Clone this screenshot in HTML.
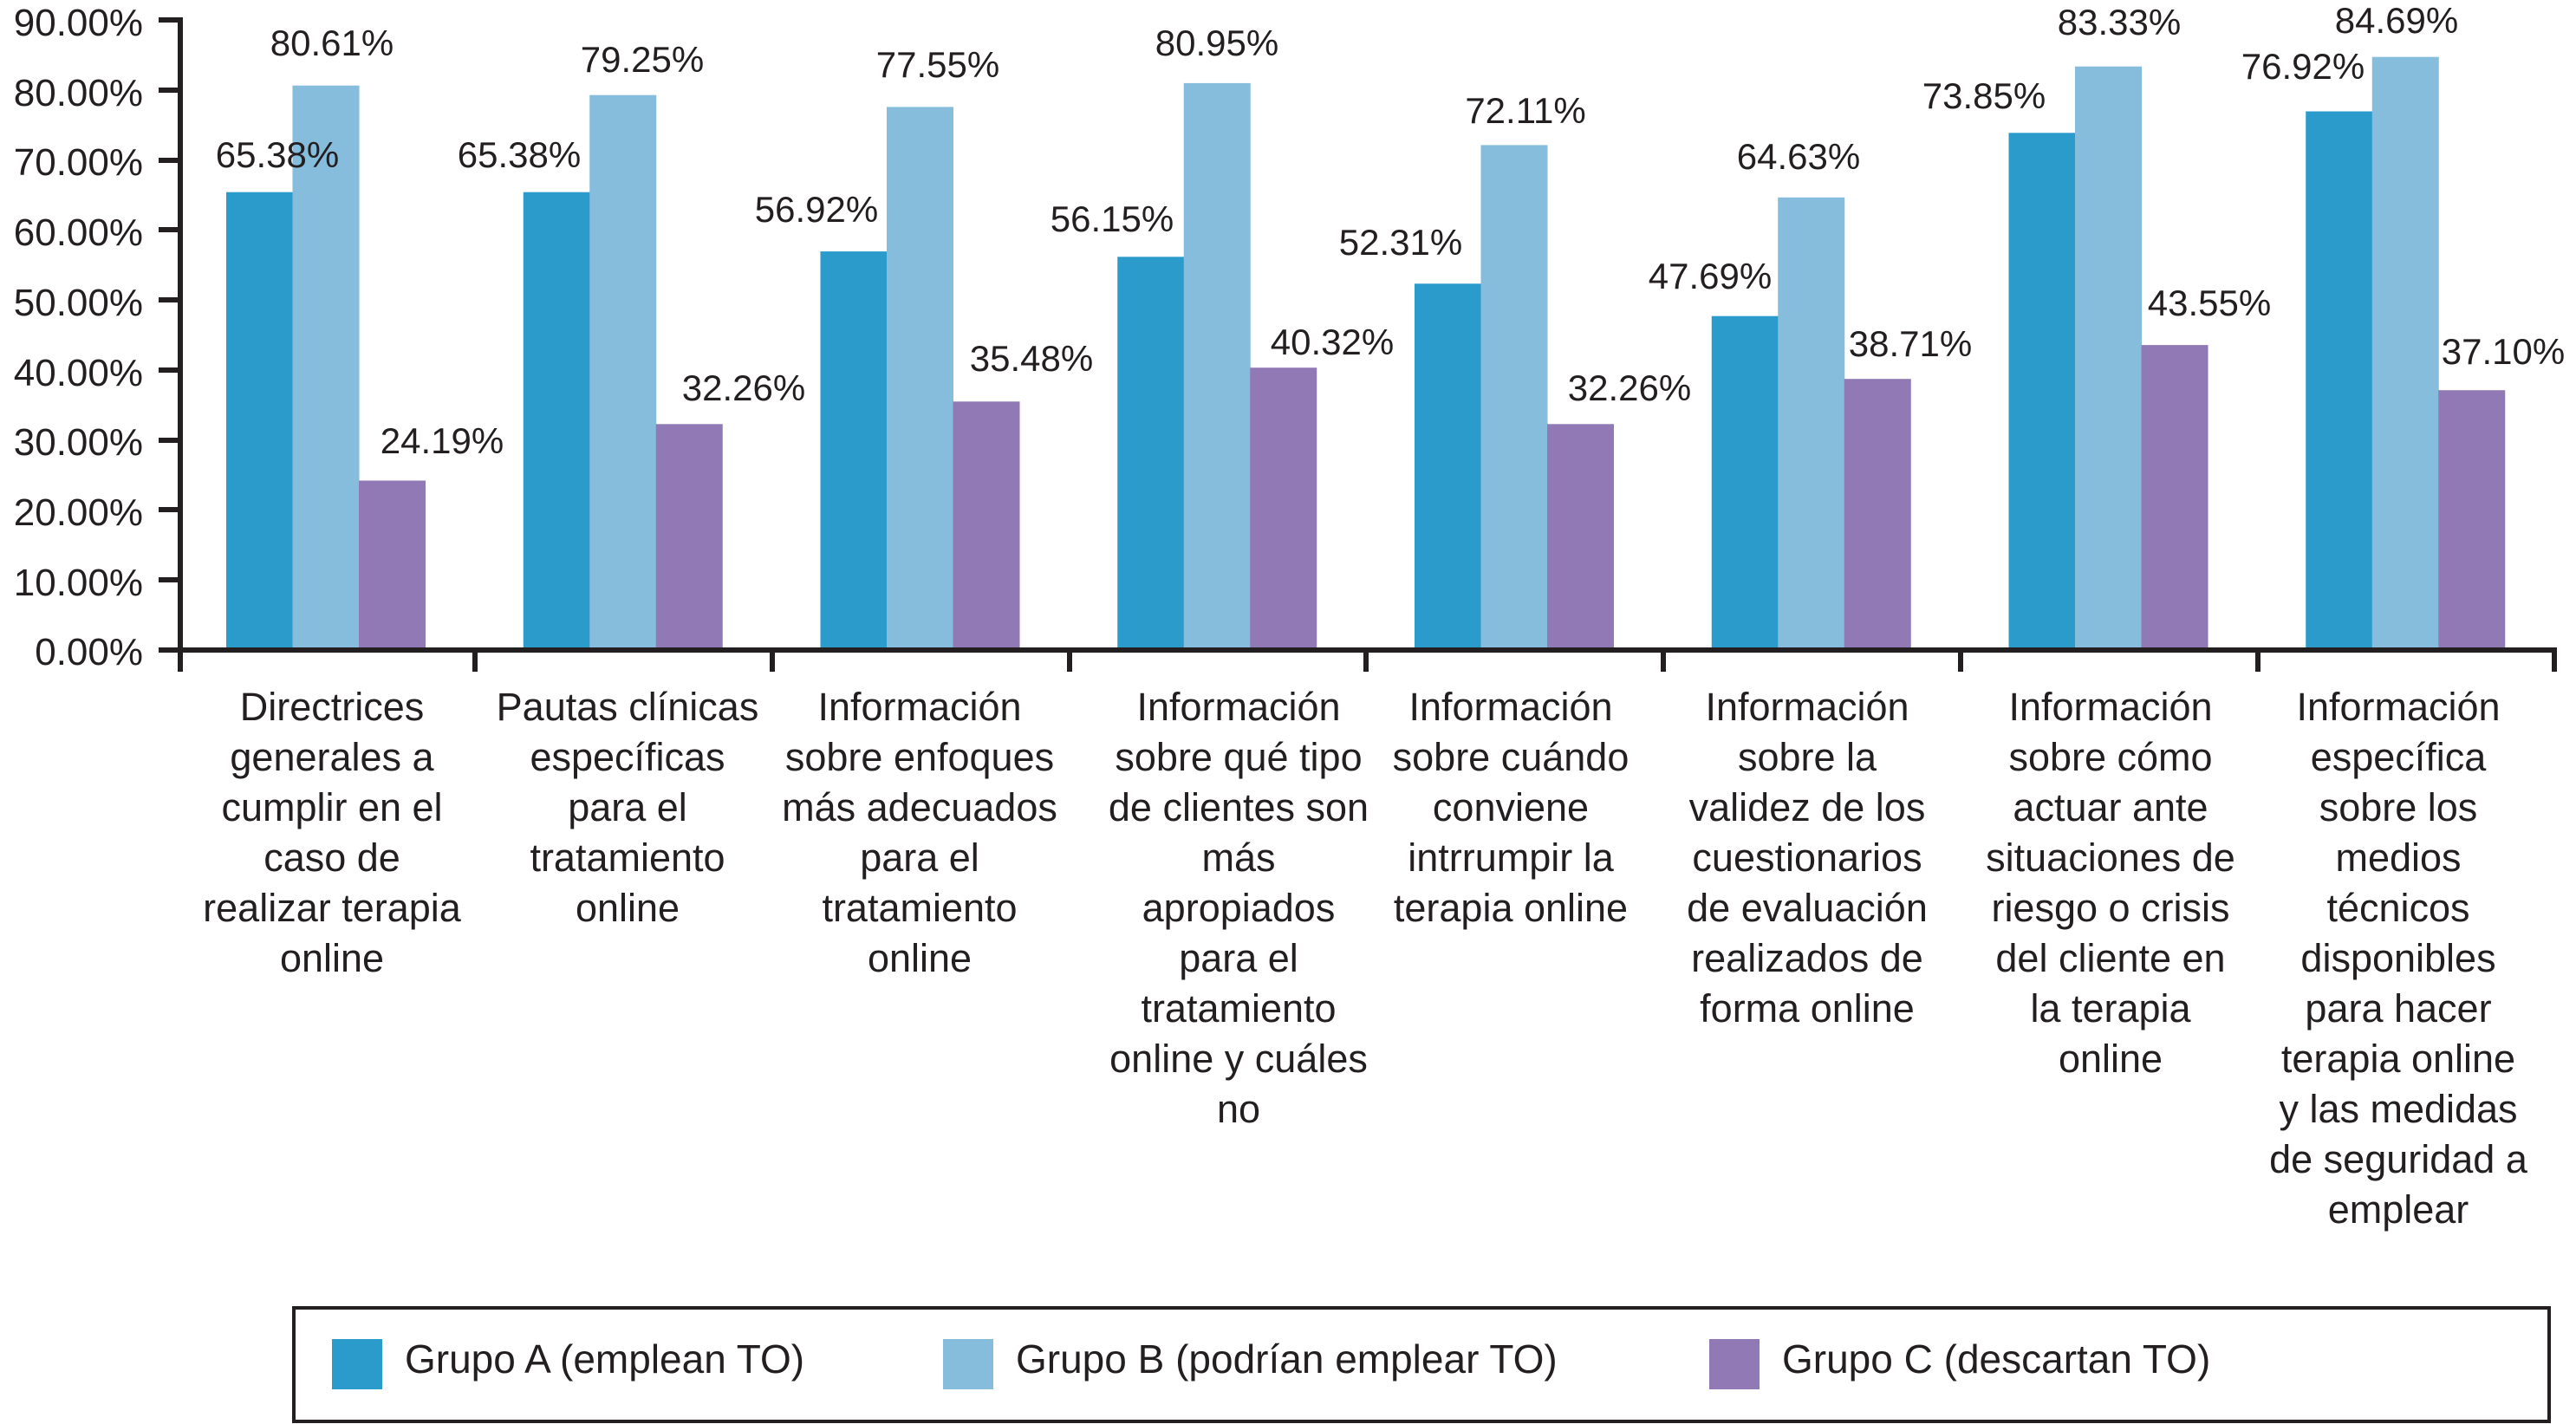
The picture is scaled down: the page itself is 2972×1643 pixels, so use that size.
<!DOCTYPE html>
<html><head><meta charset="utf-8"><style>
html,body{margin:0;padding:0;background:#fff;}
svg{display:block;font-family:"Liberation Sans",Arial,sans-serif;}
</style></head><body>
<svg width="2972" height="1643" viewBox="0 0 2972 1643" xmlns="http://www.w3.org/2000/svg">
<g fill="#231f20" font-size="44" text-anchor="end">
<text x="165" y="41">90.00%</text>
<text x="165" y="122">80.00%</text>
<text x="165" y="202">70.00%</text>
<text x="165" y="283">60.00%</text>
<text x="165" y="364">50.00%</text>
<text x="165" y="445">40.00%</text>
<text x="165" y="525">30.00%</text>
<text x="165" y="606">20.00%</text>
<text x="165" y="687">10.00%</text>
<text x="165" y="767">0.00%</text>
</g>
<g>
<rect x="261" y="221.7" width="77" height="528.3" fill="#2b9bcb"/>
<rect x="337.5" y="98.7" width="77" height="651.3" fill="#86bcdc"/>
<rect x="414" y="554.5" width="77" height="195.5" fill="#9079b4"/>
<rect x="603.75" y="221.7" width="77" height="528.3" fill="#2b9bcb"/>
<rect x="680.25" y="109.7" width="77" height="640.3" fill="#86bcdc"/>
<rect x="756.75" y="489.3" width="77" height="260.7" fill="#9079b4"/>
<rect x="946.5" y="290.1" width="77" height="459.9" fill="#2b9bcb"/>
<rect x="1023" y="123.4" width="77" height="626.6" fill="#86bcdc"/>
<rect x="1099.5" y="463.3" width="77" height="286.7" fill="#9079b4"/>
<rect x="1289.25" y="296.3" width="77" height="453.7" fill="#2b9bcb"/>
<rect x="1365.75" y="95.9" width="77" height="654.1" fill="#86bcdc"/>
<rect x="1442.25" y="424.2" width="77" height="325.8" fill="#9079b4"/>
<rect x="1632" y="327.3" width="77" height="422.7" fill="#2b9bcb"/>
<rect x="1708.5" y="167.4" width="77" height="582.6" fill="#86bcdc"/>
<rect x="1785" y="489.3" width="77" height="260.7" fill="#9079b4"/>
<rect x="1974.75" y="364.7" width="77" height="385.3" fill="#2b9bcb"/>
<rect x="2051.25" y="227.8" width="77" height="522.2" fill="#86bcdc"/>
<rect x="2127.75" y="437.2" width="77" height="312.8" fill="#9079b4"/>
<rect x="2317.5" y="153.3" width="77" height="596.7" fill="#2b9bcb"/>
<rect x="2394" y="76.7" width="77" height="673.3" fill="#86bcdc"/>
<rect x="2470.5" y="398.1" width="77" height="351.9" fill="#9079b4"/>
<rect x="2660.25" y="128.5" width="77" height="621.5" fill="#2b9bcb"/>
<rect x="2736.75" y="65.7" width="77" height="684.3" fill="#86bcdc"/>
<rect x="2813.25" y="450.2" width="77" height="299.8" fill="#9079b4"/>
</g>
<g stroke="#231f20" stroke-width="6">
<line x1="208" y1="20" x2="208" y2="775"/>
<line x1="183" y1="750" x2="2950" y2="750"/>
<line x1="183" y1="23" x2="208" y2="23"/>
<line x1="183" y1="104" x2="208" y2="104"/>
<line x1="183" y1="185" x2="208" y2="185"/>
<line x1="183" y1="265" x2="208" y2="265"/>
<line x1="183" y1="346" x2="208" y2="346"/>
<line x1="183" y1="427" x2="208" y2="427"/>
<line x1="183" y1="508" x2="208" y2="508"/>
<line x1="183" y1="588" x2="208" y2="588"/>
<line x1="183" y1="669" x2="208" y2="669"/>
<line x1="548" y1="750" x2="548" y2="775"/>
<line x1="891" y1="750" x2="891" y2="775"/>
<line x1="1234" y1="750" x2="1234" y2="775"/>
<line x1="1576" y1="750" x2="1576" y2="775"/>
<line x1="1919" y1="750" x2="1919" y2="775"/>
<line x1="2262" y1="750" x2="2262" y2="775"/>
<line x1="2605" y1="750" x2="2605" y2="775"/>
<line x1="2947" y1="750" x2="2947" y2="775"/>
</g>
<g fill="#231f20" font-size="42" text-anchor="middle">
<text x="320" y="193">65.38%</text><text x="383" y="64">80.61%</text><text x="510" y="523">24.19%</text>
<text x="599" y="193">65.38%</text><text x="741" y="83">79.25%</text><text x="858" y="462">32.26%</text>
<text x="942" y="256">56.92%</text><text x="1082" y="89">77.55%</text><text x="1190" y="428">35.48%</text>
<text x="1283" y="267">56.15%</text><text x="1404" y="64">80.95%</text><text x="1537" y="409">40.32%</text>
<text x="1616" y="294">52.31%</text><text x="1760" y="142">72.11%</text><text x="1880" y="462">32.26%</text>
<text x="1973" y="333">47.69%</text><text x="2075" y="195">64.63%</text><text x="2204" y="411">38.71%</text>
<text x="2289" y="125">73.85%</text><text x="2445" y="40">83.33%</text><text x="2549" y="364">43.55%</text>
<text x="2657" y="91">76.92%</text><text x="2765" y="38">84.69%</text><text x="2888" y="420">37.10%</text>
</g>
<g fill="#231f20" font-size="45" text-anchor="middle">
<text x="383" y="831">Directrices<tspan x="383" dy="58">generales a</tspan><tspan x="383" dy="58">cumplir en el</tspan><tspan x="383" dy="58">caso de</tspan><tspan x="383" dy="58">realizar terapia</tspan><tspan x="383" dy="58">online</tspan></text>
<text x="724" y="831">Pautas clínicas<tspan x="724" dy="58">específicas</tspan><tspan x="724" dy="58">para el</tspan><tspan x="724" dy="58">tratamiento</tspan><tspan x="724" dy="58">online</tspan></text>
<text x="1061" y="831">Información<tspan x="1061" dy="58">sobre enfoques</tspan><tspan x="1061" dy="58">más adecuados</tspan><tspan x="1061" dy="58">para el</tspan><tspan x="1061" dy="58">tratamiento</tspan><tspan x="1061" dy="58">online</tspan></text>
<text x="1429" y="831">Información<tspan x="1429" dy="58">sobre qué tipo</tspan><tspan x="1429" dy="58">de clientes son</tspan><tspan x="1429" dy="58">más</tspan><tspan x="1429" dy="58">apropiados</tspan><tspan x="1429" dy="58">para el</tspan><tspan x="1429" dy="58">tratamiento</tspan><tspan x="1429" dy="58">online y cuáles</tspan><tspan x="1429" dy="58">no</tspan></text>
<text x="1743" y="831">Información<tspan x="1743" dy="58">sobre cuándo</tspan><tspan x="1743" dy="58">conviene</tspan><tspan x="1743" dy="58">intrrumpir la</tspan><tspan x="1743" dy="58">terapia online</tspan></text>
<text x="2085" y="831">Información<tspan x="2085" dy="58">sobre la</tspan><tspan x="2085" dy="58">validez de los</tspan><tspan x="2085" dy="58">cuestionarios</tspan><tspan x="2085" dy="58">de evaluación</tspan><tspan x="2085" dy="58">realizados de</tspan><tspan x="2085" dy="58">forma online</tspan></text>
<text x="2435" y="831">Información<tspan x="2435" dy="58">sobre cómo</tspan><tspan x="2435" dy="58">actuar ante</tspan><tspan x="2435" dy="58">situaciones de</tspan><tspan x="2435" dy="58">riesgo o crisis</tspan><tspan x="2435" dy="58">del cliente en</tspan><tspan x="2435" dy="58">la terapia</tspan><tspan x="2435" dy="58">online</tspan></text>
<text x="2767" y="831">Información<tspan x="2767" dy="58">específica</tspan><tspan x="2767" dy="58">sobre los</tspan><tspan x="2767" dy="58">medios</tspan><tspan x="2767" dy="58">técnicos</tspan><tspan x="2767" dy="58">disponibles</tspan><tspan x="2767" dy="58">para hacer</tspan><tspan x="2767" dy="58">terapia online</tspan><tspan x="2767" dy="58">y las medidas</tspan><tspan x="2767" dy="58">de seguridad a</tspan><tspan x="2767" dy="58">emplear</tspan></text>
</g>
<rect x="339" y="1509" width="2602" height="131" fill="none" stroke="#231f20" stroke-width="4"/>
<rect x="383" y="1545" width="58" height="58" fill="#2b9bcb"/>
<rect x="1088" y="1545" width="58" height="58" fill="#86bcdc"/>
<rect x="1972" y="1545" width="58" height="58" fill="#9079b4"/>
<g fill="#231f20" font-size="46">
<text x="467" y="1584">Grupo A (emplean TO)</text>
<text x="1172" y="1584">Grupo B (podrían emplear TO)</text>
<text x="2056" y="1584">Grupo C (descartan TO)</text>
</g>
</svg>
</body></html>
